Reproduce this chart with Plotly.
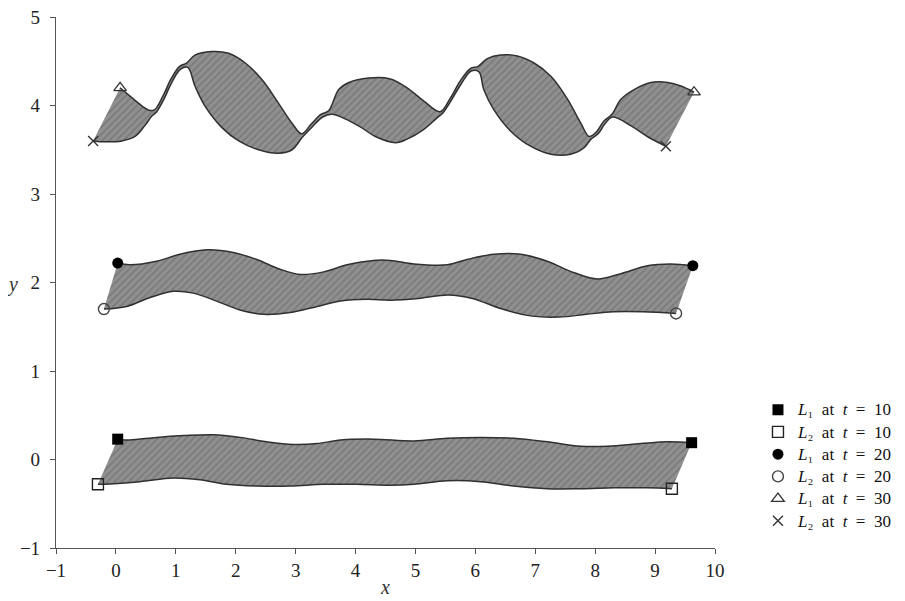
import plotly.graph_objects as go

# ---------------- data ----------------
# t = 10 band
l1_t10_x = [0.03, 0.23, 0.68, 1.13, 1.63, 2.07, 2.52, 2.96, 3.36, 3.75, 4.30, 4.97, 5.53, 6.09, 6.64, 7.20, 7.76, 8.21, 8.76, 9.21, 9.61]
l1_t10_y = [0.23, 0.22, 0.25, 0.27, 0.28, 0.25, 0.20, 0.17, 0.18, 0.22, 0.23, 0.21, 0.24, 0.25, 0.24, 0.20, 0.15, 0.15, 0.18, 0.20, 0.19]
l2_t10_x = [-0.30, -0.21, 0.40, 0.96, 1.40, 1.85, 2.35, 2.91, 3.47, 4.02, 4.58, 4.97, 5.53, 6.09, 6.64, 7.20, 7.76, 8.32, 8.87, 9.28]
l2_t10_y = [-0.28, -0.28, -0.25, -0.21, -0.23, -0.28, -0.30, -0.30, -0.28, -0.28, -0.29, -0.28, -0.24, -0.25, -0.30, -0.33, -0.33, -0.32, -0.32, -0.33]

# t = 20 band
l1_t20_x = [0.03, 0.23, 0.68, 1.07, 1.52, 1.96, 2.35, 2.74, 3.08, 3.47, 3.86, 4.30, 4.58, 4.97, 5.53, 5.86, 6.31, 6.76, 7.20, 7.65, 8.04, 8.43, 8.87, 9.26, 9.63]
l1_t20_y = [2.22, 2.20, 2.24, 2.32, 2.37, 2.34, 2.26, 2.15, 2.09, 2.12, 2.20, 2.25, 2.25, 2.21, 2.20, 2.26, 2.32, 2.32, 2.24, 2.11, 2.04, 2.10, 2.19, 2.21, 2.19]
l2_t20_x = [-0.20, 0.18, 0.57, 0.96, 1.29, 1.68, 2.07, 2.46, 2.91, 3.36, 3.75, 4.19, 4.58, 5.05, 5.55, 5.95, 6.45, 6.95, 7.40, 7.85, 8.30, 8.80, 9.35]
l2_t20_y = [1.70, 1.73, 1.83, 1.90, 1.88, 1.79, 1.69, 1.64, 1.66, 1.73, 1.79, 1.81, 1.80, 1.82, 1.86, 1.82, 1.70, 1.62, 1.61, 1.64, 1.67, 1.67, 1.65]

# t = 30 band
l1_t30_x = [0.07, 0.21, 0.37, 0.54, 0.64, 0.78, 0.92, 1.06, 1.18, 1.32, 1.60, 1.88, 2.16, 2.44, 2.71, 2.94, 3.10,
            3.26, 3.42, 3.55, 3.72, 3.89, 4.22, 4.58, 4.86, 5.14, 5.41, 5.58, 5.74, 5.92, 6.04, 6.20, 6.42, 6.70,
            6.98, 7.26, 7.54, 7.76, 7.90, 8.03, 8.14, 8.28, 8.43, 8.65, 8.93, 9.21, 9.43, 9.65]
l1_t30_y = [4.20, 4.12, 4.03, 3.95, 3.95, 4.10, 4.30, 4.44, 4.48, 4.57, 4.61, 4.59, 4.48, 4.29, 4.03, 3.80, 3.68,
            3.79, 3.90, 3.94, 4.18, 4.26, 4.31, 4.30, 4.20, 4.05, 3.93, 4.08, 4.27, 4.42, 4.44, 4.53, 4.57, 4.56,
            4.48, 4.33, 4.07, 3.80, 3.65, 3.71, 3.82, 3.90, 4.07, 4.18, 4.26, 4.26, 4.22, 4.15]
l2_t30_x = [-0.38, -0.18, 0.10, 0.32, 0.48, 0.60, 0.68, 0.80, 0.94, 1.08, 1.20, 1.32, 1.49, 1.77, 2.05, 2.38, 2.71,
            2.94, 3.11, 3.28, 3.45, 3.61, 4.05, 4.33, 4.67, 4.86, 5.14, 5.36, 5.45, 5.60, 5.76, 5.93, 6.06, 6.14,
            6.31, 6.59, 6.92, 7.26, 7.59, 7.81, 7.93, 8.05, 8.16, 8.29, 8.60, 8.87, 9.18]
l2_t30_y = [3.60, 3.59, 3.60, 3.65, 3.77, 3.88, 3.93, 4.07, 4.27, 4.41, 4.43, 4.22, 3.99, 3.75, 3.60, 3.50, 3.46,
            3.50, 3.64, 3.76, 3.87, 3.90, 3.77, 3.65, 3.58, 3.62, 3.73, 3.86, 3.91, 4.06, 4.24, 4.39, 4.38, 4.18,
            3.95, 3.71, 3.54, 3.45, 3.45, 3.52, 3.62, 3.68, 3.79, 3.87, 3.77, 3.65, 3.54]

EN = "\u2002"  # the reference legend text is widely spaced
legend_labels = [
    f"<i>L</i>\u2081{EN}at{EN}<i>t</i>{EN}={EN}10",
    f"<i>L</i>\u2082{EN}at{EN}<i>t</i>{EN}={EN}10",
    f"<i>L</i>\u2081{EN}at{EN}<i>t</i>{EN}={EN}20",
    f"<i>L</i>\u2082{EN}at{EN}<i>t</i>{EN}={EN}20",
    f"<i>L</i>\u2081{EN}at{EN}<i>t</i>{EN}={EN}30",
    f"<i>L</i>\u2082{EN}at{EN}<i>t</i>{EN}={EN}30",
]
x_ticks = list(range(-1, 11))
y_ticks = list(range(-1, 6))

# ---------------- figure ----------------
SERIF = "Liberation Serif, Times New Roman, DejaVu Serif, serif"
fig = go.Figure()

bands = [
    (l1_t10_x, l1_t10_y, l2_t10_x, l2_t10_y),
    (l1_t20_x, l1_t20_y, l2_t20_x, l2_t20_y),
    (l1_t30_x, l1_t30_y, l2_t30_x, l2_t30_y),
]
line_style = dict(color="#303030", width=1.5, shape="spline", smoothing=1.0)
for l1x, l1y, l2x, l2y in bands:
    fig.add_trace(go.Scatter(x=l2x, y=l2y, mode="lines", line=line_style,
                             showlegend=False, hoverinfo="skip"))
    fig.add_trace(go.Scatter(x=l1x, y=l1y, mode="lines", line=line_style,
                             fill="tonexty", fillcolor="#8e8e8e",
                             fillpattern=dict(shape="/", size=5, solidity=0.35,
                                              bgcolor="#909090", fgcolor="#666666"),
                             showlegend=False, hoverinfo="skip"))

marker_styles = [
    dict(symbol="square", size=11, color="black"),
    dict(symbol="square-open", size=11, color="#222", line=dict(width=1.4, color="#222")),
    dict(symbol="circle", size=11, color="black"),
    dict(symbol="circle-open", size=11, color="#444", line=dict(width=1.4, color="#444")),
    dict(symbol="triangle-up-open", size=11, color="#333", line=dict(width=1.3, color="#333")),
    dict(symbol="x-thin-open", size=10, color="#333", line=dict(width=1.4, color="#333")),
]
series = [
    (l1_t10_x, l1_t10_y), (l2_t10_x, l2_t10_y),
    (l1_t20_x, l1_t20_y), (l2_t20_x, l2_t20_y),
    (l1_t30_x, l1_t30_y), (l2_t30_x, l2_t30_y),
]
for (sx, sy), label, ms in zip(series, legend_labels, marker_styles):
    fig.add_trace(go.Scatter(x=[sx[0], sx[-1]], y=[sy[0], sy[-1]], mode="markers",
                             marker=ms, name=f'<span style="font-size:17px">{label}</span>'))

axis_common = dict(showgrid=False, zeroline=False, showline=True, linecolor="#555",
                   linewidth=1.2, ticks="outside", ticklen=5, tickcolor="#555",
                   automargin=False, ticklabeloverflow="allow",
                   tickfont=dict(family=SERIF, size=19, color="#222"))
fig.update_xaxes(range=[-1, 10], tickvals=x_ticks, **axis_common)
fig.update_yaxes(range=[-1, 5], tickvals=y_ticks, ticklabelstandoff=6, **axis_common)

fig.update_layout(
    width=905, height=601,
    margin=dict(l=48, r=198, t=9, b=61),
    plot_bgcolor="white", paper_bgcolor="white",
    font=dict(family=SERIF, color="#111"),
    legend=dict(x=1.0652, y=0.2909, xanchor="left", yanchor="top", traceorder="normal",
                font=dict(family=SERIF, size=14.8, color="#111"),
                bgcolor="rgba(0,0,0,0)", borderwidth=0, tracegroupgap=0),
    annotations=[
        dict(text="<i>x</i>", xref="paper", yref="paper", x=0.4992, y=-0.0733,
             xanchor="center", yanchor="middle",
             showarrow=False, font=dict(family=SERIF, size=20, color="#333")),
        dict(text="<i>y</i>", xref="paper", yref="paper", x=-0.0774, y=0.496,
             xanchor="left", yanchor="middle",
             showarrow=False, font=dict(family=SERIF, size=20, color="#333")),
    ],
)

fig.write_html("out.html")
